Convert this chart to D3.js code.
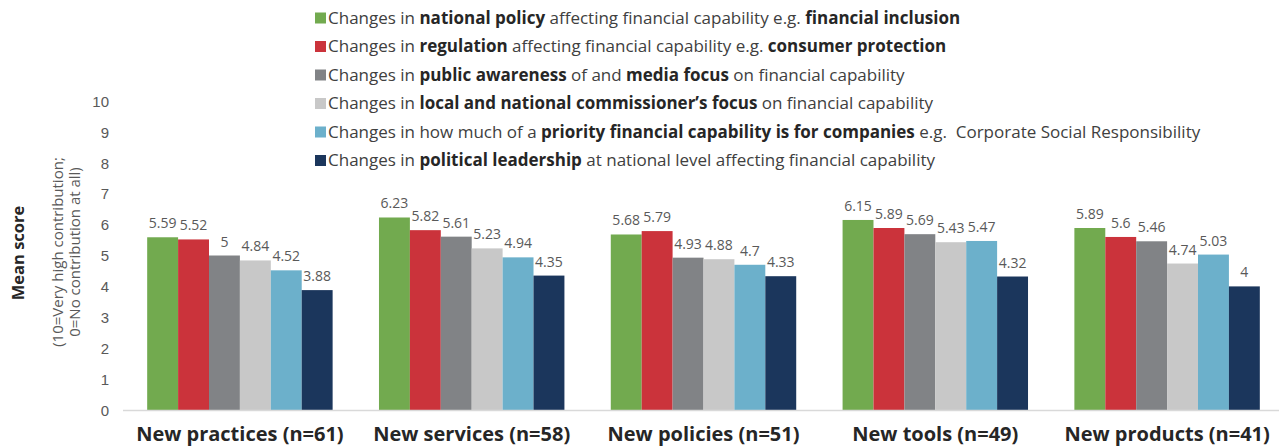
<!DOCTYPE html>
<html>
<head>
<meta charset="utf-8">
<script src="https://cdn.jsdelivr.net/npm/d3@7"></script>
<style>
  body { margin: 0; background: #fff; }
  svg { font-family: 'Open Sans', sans-serif; display: block; }
  .legend text { font-size: 17px; fill: #404040; }
  .value { font-size: 14px; fill: #595959; text-anchor: middle; }
  .tick text { font-size: 15px; fill: #595959; }
  .cat { font-size: 20px; font-weight: bold; fill: #262626; text-anchor: middle; }
</style>
</head>
<body>
<svg width="1279" height="446"></svg>
<script>
const categories = ['New practices (n=61)', 'New services (n=58)', 'New policies (n=51)', 'New tools (n=49)', 'New products (n=41)'];

const nationalPolicy  = [5.59, 6.23, 5.68, 6.15, 5.89];
const regulation      = [5.52, 5.82, 5.79, 5.89, 5.6];
const publicAwareness = [5, 5.61, 4.93, 5.69, 5.46];
const commissioners   = [4.84, 5.23, 4.88, 5.43, 4.74];
const companies       = [4.52, 4.94, 4.7, 5.47, 5.03];
const leadership      = [3.88, 4.35, 4.33, 4.32, 4];

// legend labels, pieces flagged true are bold
const seriesLabels = [
  [['Changes in ', false], ['national policy', true], [' affecting financial capability e.g. ', false], ['financial inclusion', true]],
  [['Changes in ', false], ['regulation', true], [' affecting financial capability e.g. ', false], ['consumer protection', true]],
  [['Changes in ', false], ['public awareness', true], [' of and ', false], ['media focus', true], [' on financial capability', false]],
  [['Changes in ', false], ['local and national commissioner\u2019s focus', true], [' on financial capability', false]],
  [['Changes in how much of a ', false], ['priority financial capability is for companies', true], [' e.g.\u00a0 Corporate Social Responsibility', false]],
  [['Changes in ', false], ['political leadership', true], [' at national level affecting financial capability', false]]
];
const colors = ['#72aa4f', '#cb333b', '#818386', '#c8c8c8', '#6cb0cb', '#1b365c'];
const yTicks = [0, 1, 2, 3, 4, 5, 6, 7, 8, 9, 10];

const series = [nationalPolicy, regulation, publicAwareness, commissioners, companies, leadership];

const svg = d3.select('svg');
const width  = +svg.attr('width');

const xScale = d3.scaleBand()
  .domain(categories)
  .range([124, 1283])
  .paddingInner(0.2)
  .paddingOuter(0.1);

const xInner = d3.scaleBand()
  .domain(d3.range(series.length))
  .range([0, xScale.bandwidth()]);

const yScale = d3.scaleLinear()
  .domain([0, 10])
  .range([410, 101]);

// y axis (labels only)
const yAxisG = svg.append('g')
  .attr('transform', 'translate(109,0)')
  .call(d3.axisLeft(yScale).tickValues(yTicks).tickSize(0).tickPadding(0));
yAxisG.select('.domain').remove();
yAxisG.selectAll('.tick text').attr('dy', '0.35em');

// axis titles
svg.append('text')
  .attr('transform', 'translate(24,253) rotate(-90)')
  .attr('text-anchor', 'middle')
  .style('font-size', '16.5px').style('font-weight', 'bold').attr('fill', '#262626')
  .text('Mean score');
const sub = svg.append('text')
  .attr('transform', 'translate(0,252) rotate(-90)')
  .attr('text-anchor', 'middle')
  .style('font-size', '15px').attr('fill', '#595959');
sub.append('tspan').attr('x', 0).attr('y', 63).text('(10=Very high contribution;');
sub.append('tspan').attr('x', 0).attr('y', 80).text('0=No contribution at all)');

// bars
const groups = svg.selectAll('.group')
  .data(categories).enter()
  .append('g')
    .attr('class', 'group')
    .attr('transform', d => `translate(${xScale(d)},0)`);

groups.selectAll('rect')
  .data((d, i) => series.map((s, j) => ({ j, v: s[i] }))).enter()
  .append('rect')
    .attr('x', d => xInner(d.j))
    .attr('y', d => yScale(d.v))
    .attr('width', xInner.bandwidth())
    .attr('height', d => yScale(0) - yScale(d.v))
    .attr('fill', d => colors[d.j]);

groups.selectAll('.value')
  .data((d, i) => series.map((s, j) => ({ j, v: s[i] }))).enter()
  .append('text')
    .attr('class', 'value')
    .attr('x', d => xInner(d.j) + xInner.bandwidth() / 2)
    .attr('y', d => yScale(d.v) - 9)
    .text(d => d.v);

// x axis
const xAxisG = svg.append('g')
  .attr('transform', `translate(0,${yScale(0)})`)
  .call(d3.axisBottom(xScale).tickSize(0).tickPadding(0));
xAxisG.select('.domain').remove();
xAxisG.selectAll('.tick text').remove();
svg.append('line')
  .attr('x1', 123).attr('x2', width)
  .attr('y1', yScale(0) + 0.5).attr('y2', yScale(0) + 0.5)
  .attr('stroke', '#d9d9d9').attr('stroke-width', 1.5);
svg.selectAll('.cat')
  .data(categories).enter()
  .append('text')
    .attr('class', 'cat')
    .attr('x', d => xScale(d) + xScale.bandwidth() / 2)
    .attr('y', 441)
    .text(d => d);

// legend
const legend = svg.append('g').attr('class', 'legend');
const rows = legend.selectAll('g')
  .data(seriesLabels).enter()
  .append('g')
    .attr('transform', (d, i) => `translate(315,${18 + i * 28.5})`);
rows.append('rect')
  .attr('x', 0).attr('y', -5.5)
  .attr('width', 11).attr('height', 11)
  .attr('fill', (d, i) => colors[i]);
rows.append('text')
  .attr('x', 13).attr('dy', '0.35em')
  .selectAll('tspan')
  .data(d => d).enter()
  .append('tspan')
    .style('font-weight', d => d[1] ? 'bold' : 'normal')
    .attr('fill', d => d[1] ? '#262626' : '#404040')
    .text(d => d[0]);
</script>
</body>
</html>
